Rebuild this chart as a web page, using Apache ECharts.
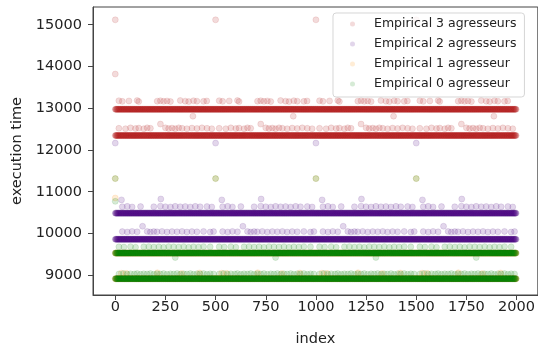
<!DOCTYPE html>
<html>
<head>
<meta charset="utf-8">
<script src="https://cdn.jsdelivr.net/npm/echarts@6/dist/echarts.min.js"></script>
<style>
  html, body { margin: 0; padding: 0; background: #fff; }
  #chart { width: 538px; height: 352px; }
</style>
</head>
<body>
<div id="chart"></div>
<script>
// the runs repeat every 500 index values
const periods = [0, 500, 1000, 1500];
const xTicks = [0, 250, 500, 750, 1000, 1250, 1500, 1750, 2000];
const yTicks = [9000, 10000, 11000, 12000, 13000, 14000, 15000];

const names = ['Empirical 3 agresseurs', 'Empirical 2 agresseurs', 'Empirical 1 agresseur', 'Empirical 0 agresseur'];

// dense levels (nearly every index sits on them)
const red_levels = [12975, 12347];
const purple_levels = [10488, 9862];
const orange_levels = [9531, 8917];
const green_levels = [9531, 8917];

// sparse points inside one period: [index in period, value]
const red_sparse = [
    [18, 13180], [35, 13165], [68, 13175], [109, 13185], [117, 13160], [209, 13170], [225, 13180],
    [241, 13165], [258, 13175], [275, 13160], [324, 13185], [349, 13170], [366, 13160], [390, 13180],
    [407, 13170], [440, 13165], [456, 13175],
    [387, 12810],
    [18, 12520], [51, 12510], [76, 12530], [101, 12515], [117, 12525], [142, 12510], [159, 12530],
    [175, 12520], [225, 12621], [250, 12530], [266, 12515], [283, 12525], [299, 12510], [316, 12530],
    [333, 12520], [357, 12510], [382, 12525], [407, 12515], [432, 12530], [457, 12520], [481, 12510],
    [0, 15118]
];
const purple_sparse = [
    [31, 10805], [227, 10826],
    [35, 10640], [60, 10650], [84, 10635], [126, 10645], [192, 10640], [225, 10655], [250, 10640],
    [275, 10635], [299, 10650], [324, 10640], [349, 10645], [374, 10635], [399, 10650], [423, 10640],
    [457, 10645], [481, 10635],
    [136, 10174],
    [35, 10045], [60, 10035], [84, 10050], [109, 10040], [159, 10050], [175, 10035], [192, 10045],
    [208, 10040], [233, 10050], [258, 10035], [283, 10045], [308, 10040], [333, 10050], [357, 10035],
    [382, 10045], [407, 10040], [440, 10050], [473, 10035], [490, 10045],
    [0, 12165]
];
const orange_sparse = [
    [30, 9050], [55, 9045], [210, 9060], [330, 9040], [420, 9055],
    [0, 11315]
];
const green_sparse = [
    [18, 9680], [43, 9675], [76, 9685], [101, 9670], [142, 9680], [167, 9685], [192, 9675],
    [217, 9680], [241, 9670], [266, 9685], [291, 9680], [316, 9675], [341, 9685], [366, 9670],
    [390, 9680], [415, 9675], [440, 9685], [473, 9680],
    [299, 9425],
    [18, 9030], [40, 9040], [60, 9025], [76, 9035], [95, 9030], [109, 9040], [126, 9025], [142, 9035],
    [159, 9030], [175, 9040], [192, 9025], [208, 9035], [225, 9030], [241, 9040], [258, 9025],
    [275, 9035], [291, 9030], [308, 9040], [324, 9025], [341, 9035], [357, 9030], [374, 9040],
    [390, 9025], [407, 9035], [423, 9030], [440, 9040], [457, 9025], [473, 9035], [490, 9030],
    [0, 11315]
];

// points seen only once, near index 0
const red_once = [[0, 13819]];
const purple_once = [];
const orange_once = [[0, 10850]];
const green_once = [[0, 10770]];

function buildPoints(levels, sparse, once) {
    const pts = [];
    levels.forEach(function (lv) {
        for (let i = 0; i < 2000; i += 2) pts.push([i, lv]);
    });
    periods.forEach(function (p) {
        sparse.forEach(function (s) {
            if (p + s[0] < 2000) pts.push([p + s[0], s[1]]);
        });
    });
    once.forEach(function (s) { pts.push(s); });
    return pts;
}

const seriesColors = ['178,34,34', '75,0,130', '255,140,0', '0,128,0'];
const seriesData = [
    buildPoints(red_levels, red_sparse, red_once),
    buildPoints(purple_levels, purple_sparse, purple_once),
    buildPoints(orange_levels, orange_sparse, orange_once),
    buildPoints(green_levels, green_sparse, green_once)
];

const font = 'DejaVu Sans';
const chart = echarts.init(document.getElementById('chart'), null, {renderer: 'canvas'});

const option = {
    animation: false,
    grid: {
        left: 93,
        top: 7,
        width: 447,
        height: 292,
        show: true,
        borderColor: '#444',
        borderWidth: 1,
        backgroundColor: 'transparent'
    },
    legend: {
        data: names,
        orient: 'vertical',
        left: 333,
        top: 13,
        icon: 'circle',
        itemWidth: 5,
        itemHeight: 5,
        itemGap: 0,
        itemStyle: {borderWidth: 0},
        padding: [1, 8, 3, 17],
        backgroundColor: 'rgba(255,255,255,0.8)',
        borderColor: 'rgba(210,210,210,0.9)',
        borderWidth: 1,
        borderRadius: 3,
        textStyle: {
            fontFamily: font,
            fontSize: 12.5,
            lineHeight: 20,
            color: '#222',
            padding: [0, 0, 0, 14]
        }
    },
    xAxis: {
        type: 'value',
        min: -111,
        max: 2106,
        name: 'index',
        nameLocation: 'middle',
        nameGap: 37,
        nameTextStyle: {fontFamily: font, fontSize: 14.5, color: '#222'},
        splitLine: {show: false},
        axisLine: {show: true, onZero: false, lineStyle: {color: '#444'}},
        axisTick: {show: true, length: 5, customValues: xTicks, lineStyle: {color: '#444'}},
        axisLabel: {
            customValues: xTicks, fontFamily: font, fontSize: 14.5, color: '#222', margin: 5,
            formatter: function (v) { return String(v); }
        }
    },
    yAxis: {
        type: 'value',
        min: 8527,
        max: 15425,
        name: 'execution time',
        nameLocation: 'middle',
        nameGap: 65,
        nameTextStyle: {fontFamily: font, fontSize: 14.5, color: '#222'},
        splitLine: {show: false},
        axisLine: {show: true, onZero: false, lineStyle: {color: '#444'}},
        axisTick: {show: true, length: 5, customValues: yTicks, lineStyle: {color: '#444'}},
        axisLabel: {
            customValues: yTicks, fontFamily: font, fontSize: 14.5, color: '#222', margin: 11,
            formatter: function (v) { return String(v); }
        }
    },
    series: names.map(function (n, k) {
        return {
            name: n,
            type: 'scatter',
            symbol: 'circle',
            symbolSize: 6,
            progressive: 0,
            large: false,
            itemStyle: {
                color: 'rgba(' + seriesColors[k] + ',0.2)',
                borderColor: 'rgba(' + seriesColors[k] + ',0.15)',
                borderWidth: 1
            },
            emphasis: {disabled: true},
            data: seriesData[k]
        };
    })
};

option && chart.setOption(option);
</script>
</body>
</html>
